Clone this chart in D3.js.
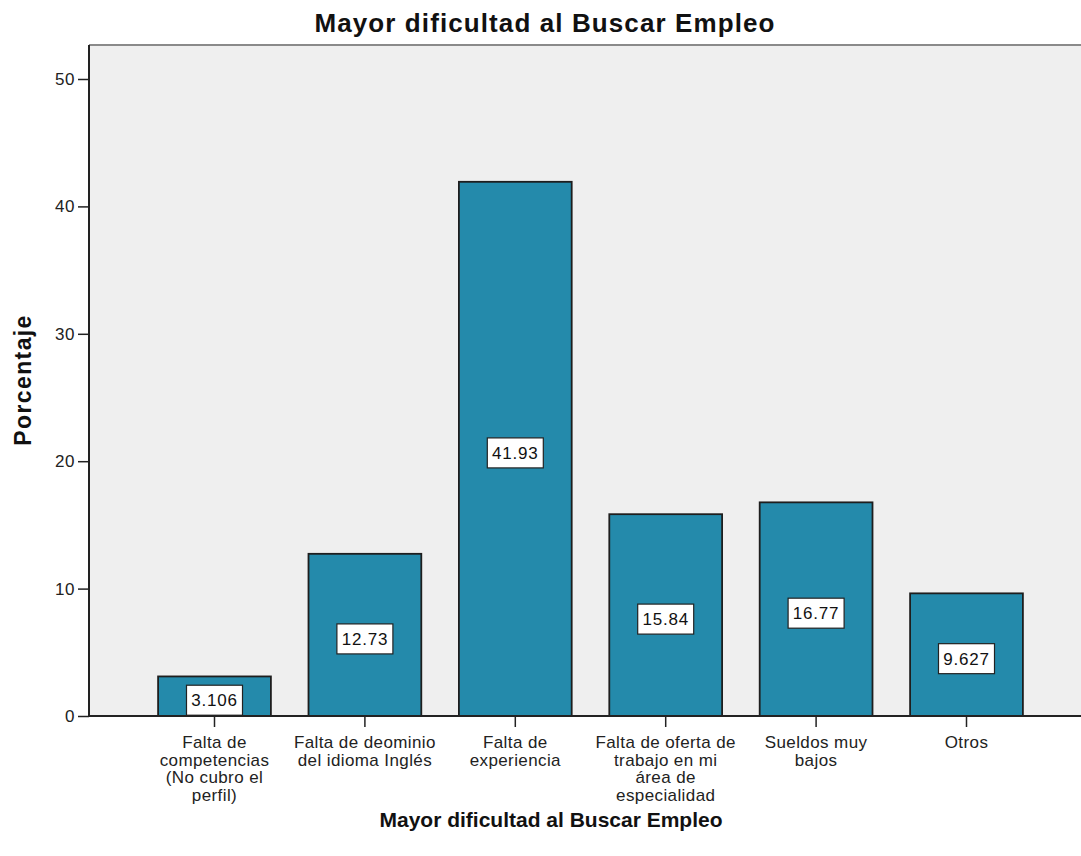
<!DOCTYPE html>
<html>
<head>
<meta charset="utf-8">
<script src="https://cdn.jsdelivr.net/npm/d3@7"></script>
<style>
  body { margin: 0; background: #fff; }
  text { font-family: "Liberation Sans", Arial, sans-serif; }
</style>
</head>
<body>
<svg id="chart" width="1081" height="856"></svg>
<script>
var categories = [
  ['Falta de', 'competencias', '(No cubro el', 'perfil)'],
  ['Falta de deominio', 'del idioma Inglés'],
  ['Falta de', 'experiencia'],
  ['Falta de oferta de', 'trabajo en mi', 'área de', 'especialidad'],
  ['Sueldos muy', 'bajos'],
  ['Otros']
]
var values = [3.106, 12.73, 41.93, 15.84, 16.77, 9.627]
var valueLabels = ['3.106', '12.73', '41.93', '15.84', '16.77', '9.627']
var yTicks = [0, 10, 20, 30, 40, 50]

var svg = d3.select('#chart')
var plotLeft = 89, plotTop = 45, plotRight = 1081, plotBottom = 716

var x = d3.scaleBand()
    .domain(d3.range(values.length))
    .range([139.3, 1041.7])
    .paddingInner(0.25)
    .paddingOuter(0.125)

var y = d3.scaleLinear()
    .domain([0, 50])
    .range([plotBottom, 79])

// plot background
svg.append('rect')
    .attr('x', plotLeft).attr('y', plotTop)
    .attr('width', plotRight - plotLeft).attr('height', plotBottom - plotTop)
    .attr('fill', '#efefef')
svg.append('line')
    .attr('x1', plotLeft).attr('x2', plotRight).attr('y1', plotTop).attr('y2', plotTop)
    .attr('stroke', '#8a8a8a').attr('stroke-width', 2)

// bars
svg.append('g')
  .selectAll('rect')
  .data(values)
  .enter().append('rect')
    .attr('x', function (d, i) { return x(i) })
    .attr('y', function (d) { return y(d) })
    .attr('width', x.bandwidth())
    .attr('height', function (d) { return plotBottom - y(d) })
    .attr('fill', '#248aab')
    .attr('stroke', '#1e1e1e')
    .attr('stroke-width', 1.8)

// value labels
var lab = svg.append('g')
  .selectAll('g')
  .data(values)
  .enter().append('g')
    .attr('transform', function (d, i) {
      var cy = (y(d) + plotBottom) / 2 + 4
      cy = Math.min(cy, plotBottom - 15)
      return 'translate(' + (x(i) + x.bandwidth() / 2) + ',' + cy + ')'
    })
lab.append('rect')
    .attr('x', -28).attr('y', -15)
    .attr('width', 56).attr('height', 30)
    .attr('fill', '#fff')
    .attr('stroke', '#222')
    .attr('stroke-width', 1.2)
lab.append('text')
    .attr('text-anchor', 'middle')
    .attr('dy', '0.36em')
    .attr('font-size', 17)
    .attr('letter-spacing', 0.8)
    .attr('fill', '#111')
    .text(function (d, i) { return valueLabels[i] })

// y axis
var yAxis = svg.append('g')
    .attr('transform', 'translate(' + plotLeft + ',0)')
    .call(d3.axisLeft(y).tickValues(yTicks).tickSize(11).tickSizeOuter(0).tickPadding(3))
yAxis.select('.domain').remove()
yAxis.selectAll('line').attr('stroke', '#222').attr('stroke-width', 1.5)
yAxis.selectAll('text')
    .attr('font-size', 17)
    .attr('letter-spacing', 0.5)
    .attr('fill', '#222')
    .attr('font-family', '"Liberation Sans", Arial, sans-serif')
svg.append('line')
    .attr('x1', plotLeft).attr('x2', plotLeft).attr('y1', plotTop).attr('y2', plotBottom)
    .attr('stroke', '#222').attr('stroke-width', 2)

// x axis
var xAxis = svg.append('g')
    .attr('transform', 'translate(0,' + plotBottom + ')')
    .call(d3.axisBottom(x).tickSize(11).tickSizeOuter(0).tickFormat(''))
xAxis.select('.domain').remove()
xAxis.selectAll('line').attr('stroke', '#222').attr('stroke-width', 1.5)
svg.append('line')
    .attr('x1', plotLeft).attr('x2', plotRight).attr('y1', plotBottom).attr('y2', plotBottom)
    .attr('stroke', '#222').attr('stroke-width', 2)

var catText = svg.append('g')
  .selectAll('text')
  .data(categories)
  .enter().append('text')
    .attr('text-anchor', 'middle')
    .attr('font-size', 17)
    .attr('letter-spacing', 0.4)
    .attr('fill', '#222')
    .attr('x', function (d, i) { return x(i) + x.bandwidth() / 2 })
    .attr('y', 748)
catText.selectAll('tspan')
    .data(function (d) { return d })
    .enter().append('tspan')
    .attr('x', function () { return d3.select(this.parentNode).attr('x') })
    .attr('dy', function (d, i) { return i === 0 ? 0 : 17.6 })
    .text(function (d) { return d })

// titles
svg.append('text')
    .attr('x', 545).attr('y', 32)
    .attr('text-anchor', 'middle')
    .attr('font-size', 26).attr('letter-spacing', 1.1)
    .attr('font-weight', 'bold').attr('fill', '#111')
    .text('Mayor dificultad al Buscar Empleo')
svg.append('text')
    .attr('x', 551).attr('y', 827)
    .attr('text-anchor', 'middle')
    .attr('font-size', 21).attr('font-weight', 'bold').attr('fill', '#111')
    .text('Mayor dificultad al Buscar Empleo')
svg.append('text')
    .attr('transform', 'translate(31,380) rotate(-90)')
    .attr('text-anchor', 'middle')
    .attr('font-size', 23).attr('letter-spacing', 1.4)
    .attr('font-weight', 'bold').attr('fill', '#111')
    .text('Porcentaje')
</script>
</body>
</html>
